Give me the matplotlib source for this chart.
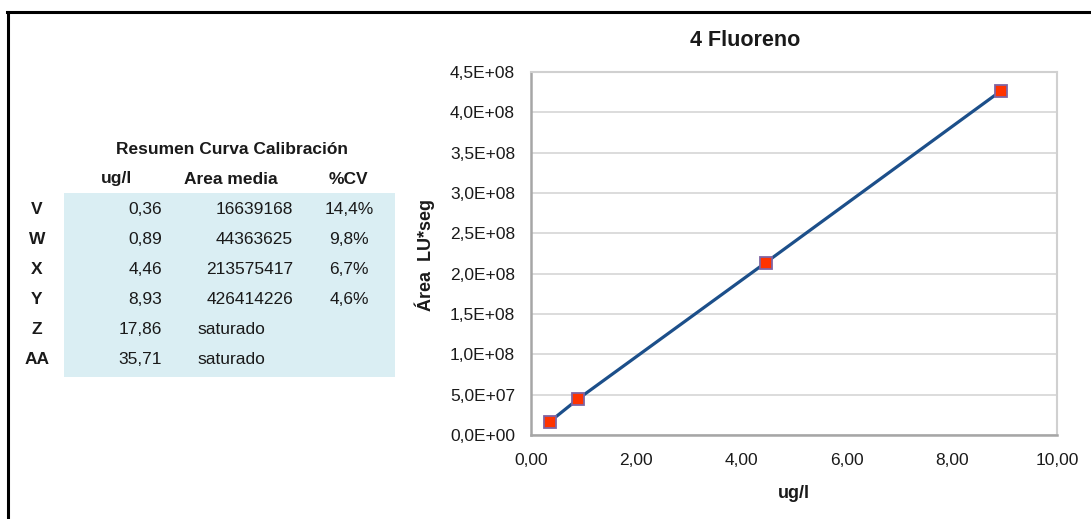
import matplotlib
matplotlib.use("Agg")
import matplotlib.pyplot as plt
from matplotlib.patches import Rectangle
from matplotlib.lines import Line2D
from matplotlib.ticker import FuncFormatter, MultipleLocator

# ---- data ----
codes = ['V', 'W', 'X', 'Y', 'Z', 'AA']
conc_labels = ['0,36', '0,89', '4,46', '8,93', '17,86', '35,71']
area_labels = ['16639168', '44363625', '213575417', '426414226', 'saturado', 'saturado']
cv_labels = ['14,4%', '9,8%', '6,7%', '4,6%', '', '']
conc = [0.36, 0.89, 4.46, 8.93]
area = [16639168, 44363625, 213575417, 426414226]

W, H = 1091, 519
fig = plt.figure(figsize=(W / 100, H / 100), dpi=100)
plt.rcParams['font.family'] = ['Liberation Sans', 'DejaVu Sans']

def fx(px):
    return px / W

def fy(py):
    return 1 - py / H

# figure border (left and top)
fig.add_artist(Line2D([fx(8), fx(8)], [fy(12), 0], color='black', lw=2.2, transform=fig.transFigure))
fig.add_artist(Line2D([fx(7), 1], [fy(12), fy(12)], color='black', lw=2.2, transform=fig.transFigure))

# ---- table ----
fig.add_artist(Rectangle((fx(64), fy(377)), fx(395) - fx(64), fy(193) - fy(377),
                         transform=fig.transFigure, facecolor='#DAEEF3', edgecolor='none', zorder=0))
fs = 12.5
txtc = '#1a1a1a'
fig.text(fx(232), fy(149), 'Resumen Curva Calibración', ha='center', va='center',
         fontsize=fs, fontweight='bold', color=txtc)
fig.text(fx(116), fy(179), 'ug/l', ha='center', va='center', fontsize=fs, fontweight='bold', color=txtc)
fig.text(fx(231), fy(179), 'Area media', ha='center', va='center', fontsize=fs, fontweight='bold', color=txtc)
fig.text(fx(348), fy(179), '%CV', ha='center', va='center', fontsize=fs, fontweight='bold', color=txtc)
row_y = [209, 239, 269, 299, 329, 359]
for code, c, a, cv, yy in zip(codes, conc_labels, area_labels, cv_labels, row_y):
    fig.text(fx(37), fy(yy), code, ha='center', va='center', fontsize=fs, fontweight='bold', color=txtc)
    fig.text(fx(162), fy(yy), c, ha='right', va='center', fontsize=fs, color=txtc)
    if a == 'saturado':
        fig.text(fx(197), fy(yy), a, ha='left', va='center', fontsize=fs, color=txtc)
    else:
        fig.text(fx(293), fy(yy), a, ha='right', va='center', fontsize=fs, color=txtc)
    if cv:
        fig.text(fx(349), fy(yy), cv, ha='center', va='center', fontsize=fs, color=txtc)

# ---- chart ----
ax = fig.add_axes([fx(531), fy(435), fx(1057) - fx(531), fy(72) - fy(435)])
ax.plot(conc, area, color='#1C4F8A', lw=2.3, marker='s', markersize=9,
        markerfacecolor='#FF3300', markeredgecolor='#8064A2', markeredgewidth=1.3, zorder=3)
ax.set_xlim(0, 10)
ax.set_ylim(0, 4.5e8)
ax.xaxis.set_major_locator(MultipleLocator(2))
ax.yaxis.set_major_locator(MultipleLocator(0.5e8))
ax.xaxis.set_major_formatter(FuncFormatter(lambda v, p: f"{v:.2f}".replace('.', ',')))
ax.yaxis.set_major_formatter(FuncFormatter(lambda v, p: f"{v:.1E}".replace('.', ',')))
ax.grid(axis='y', color='#D9D9D9', lw=1.3)
ax.set_axisbelow(True)
ax.tick_params(axis='both', length=0, labelsize=12.5, colors='#1a1a1a')
ax.tick_params(axis='y', pad=11.5)
ax.tick_params(axis='x', pad=13)
for s in ['left', 'bottom']:
    ax.spines[s].set_color('#A6A6A6')
    ax.spines[s].set_linewidth(1.8)
for s in ['top', 'right']:
    ax.spines[s].set_color('#D0D0D0')
    ax.spines[s].set_linewidth(1.5)

fig.text(fx(745), fy(40), '4 Fluoreno', ha='center', va='center', fontsize=15.5,
         fontweight='bold', color=txtc)
fig.text(fx(794), fy(494), 'ug/l', ha='center', va='center', fontsize=13,
         fontweight='bold', color=txtc)
fig.text(fx(425), fy(255), 'Área  LU*seg', ha='center', va='center', rotation=90,
         fontsize=13, fontweight='bold', color=txtc)

fig.savefig('out.png', dpi=100)
